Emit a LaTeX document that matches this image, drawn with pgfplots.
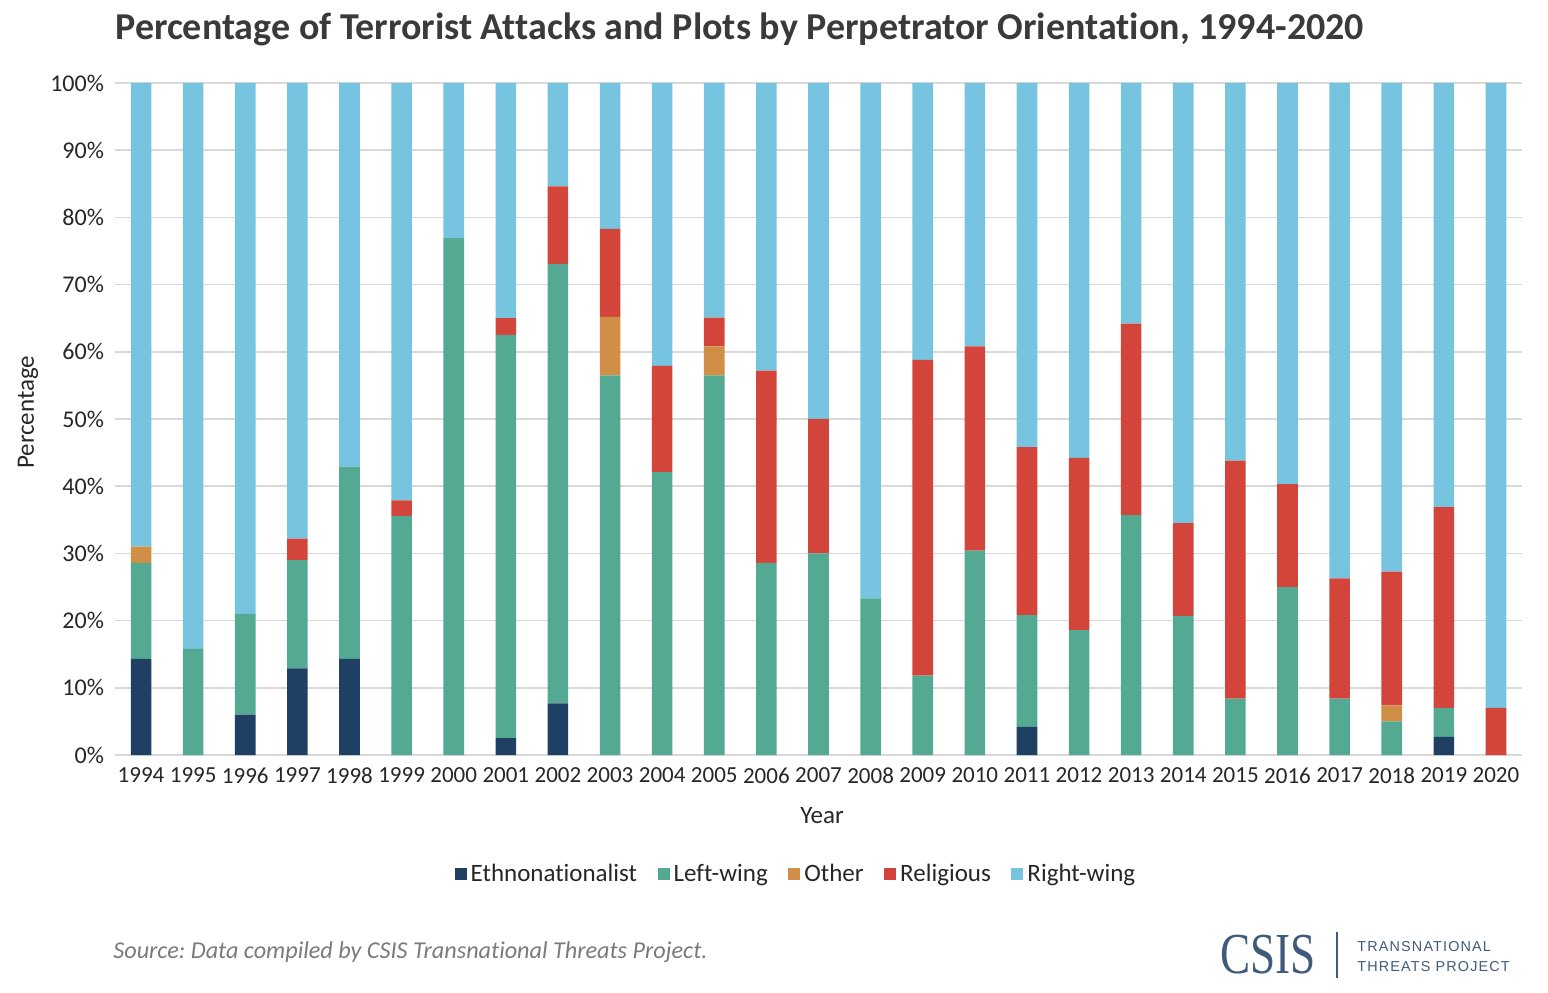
\documentclass[border=0pt]{standalone}
\usepackage{fontspec}
\setmainfont{Carlito}[Ligatures=NoCommon]
\newfontfamily\logoserif{Liberation Serif}
\newfontfamily\logosans{Liberation Sans}[LetterSpace=8]
\usepackage{pgfplots}
\pgfplotsset{compat=1.18}
\usepackage{pgfplotstable}
\frenchspacing
\definecolor{eth}{HTML}{1F4063}
\definecolor{lft}{HTML}{54A993}
\definecolor{oth}{HTML}{D18E46}
\definecolor{rel}{HTML}{D3453A}
\definecolor{rgt}{HTML}{77C4E1}
\definecolor{gridgray}{HTML}{D9D9D9}
\definecolor{txt}{HTML}{262626}
\definecolor{ttl}{HTML}{3A3A3A}
\definecolor{src}{HTML}{7A7A7A}
\definecolor{logo}{HTML}{3F5B7B}
\pgfplotstableread{
year eth left oth rel right
1994 14.3 14.3 2.4 0 69.0
1995 0 15.8 0 0 84.2
1996 6.0 15.0 0 0 79.0
1997 12.9 16.1 0 3.2 67.8
1998 14.3 28.6 0 0 57.1
1999 0 35.6 0 2.3 62.1
2000 0 76.9 0 0 23.1
2001 2.5 60.0 0 2.5 35.0
2002 7.7 65.4 0 11.5 15.4
2003 0 56.5 8.7 13.1 21.7
2004 0 42.1 0 15.8 42.1
2005 0 56.5 4.3 4.3 34.9
2006 0 28.6 0 28.6 42.8
2007 0 30.0 0 20.0 50.0
2008 0 23.3 0 0 76.7
2009 0 11.8 0 47.0 41.2
2010 0 30.4 0 30.4 39.2
2011 4.2 16.6 0 25.0 54.2
2012 0 18.6 0 25.6 55.8
2013 0 35.7 0 28.5 35.8
2014 0 20.7 0 13.8 65.5
2015 0 8.4 0 35.4 56.2
2016 0 25.0 0 15.3 59.7
2017 0 8.4 0 17.9 73.7
2018 0 5.0 2.4 19.9 72.7
2019 2.7 4.3 0 29.9 63.1
2020 0 0 0 7.0 93.0
}\datatable
\begin{document}
\begin{tikzpicture}
\useasboundingbox (0,0) rectangle (774pt,496pt);
\begin{axis}[
  at={(57.5pt,118.5pt)}, anchor=south west,
  scale only axis, width=703.5pt, height=336pt,
  xmin=1993.5, xmax=2020.5, ymin=0, ymax=100,
  ybar stacked, bar width=10.3pt,
  axis line style={draw=none},
  tick style={draw=none},
  major tick length=0pt,
  ymajorgrids, grid style={color=gridgray, line width=0.85pt},
  xtick={1994,1995,...,2020},
  ytick={0,10,...,100},
  /pgf/number format/assume math mode=true,
  xticklabel style={/pgf/number format/1000 sep={}, font=\fontsize{11.5}{13}\selectfont, text=txt, yshift=-3pt},
  yticklabel={\pgfmathprintnumber{\tick}\%},
  yticklabel style={font=\fontsize{12}{14}\selectfont, text=txt, xshift=-2pt},
  xlabel={Year}, ylabel={Percentage},
  every axis x label/.style={at={(axis description cs:0.5025,-0.0908)}, anchor=center, font=\fontsize{12.5}{14}\selectfont, text=txt},
  every axis y label/.style={at={(axis description cs:-0.0618,0.51)}, anchor=center, rotate=90, font=\fontsize{12.5}{14}\selectfont, text=txt},
  legend style={at={(0.4847,-0.177)}, anchor=center, draw=none, fill=none, font=\fontsize{12.5}{14}\selectfont, text=txt,
    legend columns=5, /tikz/every even column/.append style={column sep=8.3pt}},
  legend image code/.code={\fill[#1] (0pt,-3pt) rectangle (6pt,3pt);},
]
\addplot[fill=eth, draw=none] table[x=year,y=eth]{\datatable};
\addplot[fill=lft, draw=none] table[x=year,y=left]{\datatable};
\addplot[fill=oth, draw=none] table[x=year,y=oth]{\datatable};
\addplot[fill=rel, draw=none] table[x=year,y=rel]{\datatable};
\addplot[fill=rgt, draw=none] table[x=year,y=right]{\datatable};
\legend{Ethnonationalist, Left-wing, Other, Religious, Right-wing}
\end{axis}
\node[anchor=base west, inner sep=0pt, text=ttl, font=\fontsize{19}{21}\selectfont\bfseries] at (57.5pt,476.4pt) {Percentage of Terrorist Attacks and Plots by Perpetrator Orientation, 1994-2020};
\node[anchor=base west, inner sep=0pt, text=src, font=\fontsize{12.1}{14}\selectfont\itshape] at (56.5pt,17pt) {Source: Data compiled by CSIS Transnational Threats Project.};
\node[anchor=center, inner sep=0pt, text=logo] at (634pt,18.5pt) {\scalebox{0.78}[1]{\logoserif\fontsize{29}{30}\selectfont CSIS}};
\draw[logo, line width=0.6pt] (668.5pt,7pt) -- (668.5pt,30pt);
\node[anchor=west, inner sep=0pt, text=logo] at (678.5pt,22.5pt) {\logosans\fontsize{7.2}{8}\selectfont TRANSNATIONAL};
\node[anchor=west, inner sep=0pt, text=logo] at (678.5pt,12.5pt) {\logosans\fontsize{7.2}{8}\selectfont THREATS PROJECT};
\end{tikzpicture}
\end{document}
